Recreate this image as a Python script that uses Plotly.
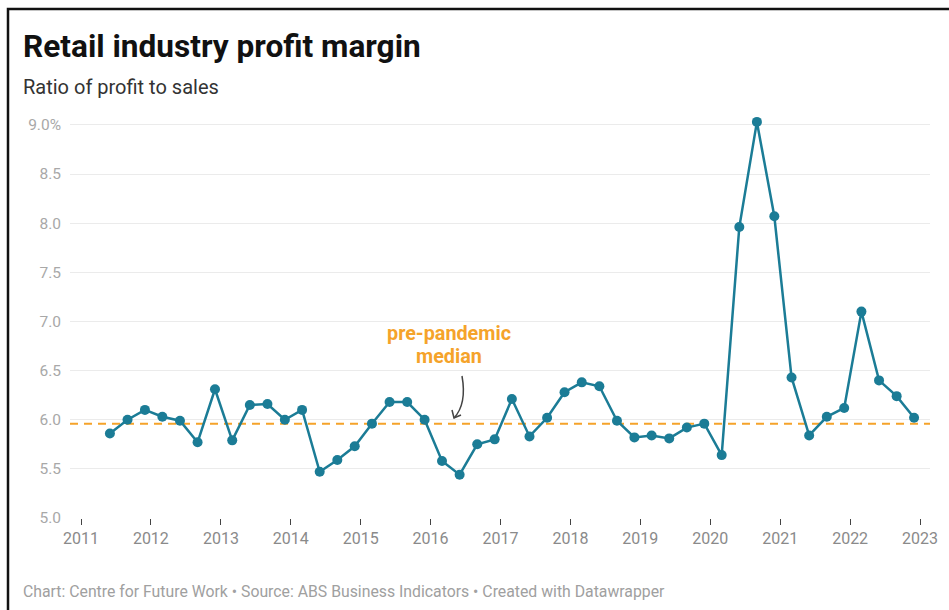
import pandas as pd
import plotly.graph_objects as go

# Quarterly retail profit-to-sales ratio (%), Jun 2011 – Dec 2022
quarters = pd.date_range("2011-06-01", "2022-12-01", freq="3MS")
profit_margin = [
    5.86, 6.00, 6.10, 6.03, 5.99, 5.77, 6.31, 5.79, 6.15, 6.16,
    6.00, 6.10, 5.47, 5.59, 5.73, 5.96, 6.18, 6.18, 6.00, 5.58,
    5.44, 5.75, 5.80, 6.21, 5.83, 6.02, 6.28, 6.38, 6.34, 5.99,
    5.82, 5.84, 5.81, 5.92, 5.96, 5.64, 7.96, 9.03, 8.07, 6.43,
    5.84, 6.03, 6.12, 7.10, 6.40, 6.24, 6.02,
]
pre_pandemic_median = 5.96

y_ticks = [5.0, 5.5, 6.0, 6.5, 7.0, 7.5, 8.0, 8.5, 9.0]
y_tick_labels = ["5.0", "5.5", "6.0", "6.5", "7.0", "7.5", "8.0", "8.5", "9.0%"]
year_ticks = [f"{y}-01-01" for y in range(2011, 2024)]

TITLE = "Retail industry profit margin"
SUBTITLE = "Ratio of profit to sales"
FOOTER = "Chart: Centre for Future Work • Source: ABS Business Indicators • Created with Datawrapper"

W, H = 949, 610
# y range runs a little above 9.0 so the peak is not clipped
Y_MIN, Y_MAX = 5.0, 9.08
PX_PER_UNIT = 98.25
L, R, B = 70, 19, 92
T = round(H - B - (Y_MAX - Y_MIN) * PX_PER_UNIT)
PW, PH = W - L - R, H - T - B

def px(xp):
    return (xp - L) / PW

def py(yp):
    return (H - B - yp) / PH

TEAL = "#1b7c96"
ORANGE = "#f5a32a"
FONT = "Roboto, Arial, sans-serif"

# x range: 2011-01-01 sits 11px right of the plot's left edge, 2023-01-01 10px left of its right edge
start, end = pd.Timestamp("2011-01-01"), pd.Timestamp("2023-01-01")
days_per_px = (end - start).days / (PW - 21)
x_range = [start - pd.Timedelta(days=11 * days_per_px), end + pd.Timedelta(days=10 * days_per_px)]

fig = go.Figure()

fig.add_trace(go.Scatter(
    x=[x_range[0], x_range[1]], y=[pre_pandemic_median] * 2,
    mode="lines", line=dict(color=ORANGE, width=2, dash="8px,6px"),
    hoverinfo="skip", showlegend=False,
))

fig.add_trace(go.Scatter(
    x=quarters, y=profit_margin, mode="lines+markers",
    line=dict(color=TEAL, width=2.5),
    marker=dict(color=TEAL, size=10),
    cliponaxis=False, showlegend=False,
))

annotations = [
    dict(text=f"<b>{TITLE}</b>", x=px(21), y=py(46), xref="paper", yref="paper",
         xanchor="left", yanchor="middle", showarrow=False,
         font=dict(family=FONT, size=31.6, color="#111")),
    dict(text=SUBTITLE, x=px(21), y=py(87), xref="paper", yref="paper",
         xanchor="left", yanchor="middle", showarrow=False,
         font=dict(family=FONT, size=20, color="#333")),
    dict(text=FOOTER, x=px(21), y=py(591), xref="paper", yref="paper",
         xanchor="left", yanchor="middle", showarrow=False,
         font=dict(family=FONT, size=15.8, color="#a0a0a0")),
    dict(text="<b>pre-pandemic</b>", x=px(449), y=py(333), xref="paper", yref="paper",
         xanchor="center", yanchor="middle", showarrow=False,
         font=dict(family=FONT, size=19.8, color=ORANGE)),
    dict(text="<b>median</b>", x=px(449), y=py(356), xref="paper", yref="paper",
         xanchor="center", yanchor="middle", showarrow=False,
         font=dict(family=FONT, size=19.8, color=ORANGE)),
]

shapes = [
    # frame around the graphic
    dict(type="path", xref="paper", yref="paper",
         path=f"M {px(1200)},{py(9)} L {px(8)},{py(9)} L {px(8)},{py(900)}",
         line=dict(color="#111", width=2.5)),
    # curved pointer to the median line
    dict(type="path", xref="paper", yref="paper",
         path=f"M {px(462)},{py(376)} Q {px(467)},{py(404)} {px(454)},{py(418)}",
         line=dict(color="#444", width=1.5)),
    dict(type="path", xref="paper", yref="paper",
         path=f"M {px(452)},{py(410)} L {px(454)},{py(418)} L {px(461)},{py(415)}",
         line=dict(color="#444", width=1.5)),
]

fig.update_layout(
    width=W, height=H,
    margin=dict(l=L, r=R, t=T, b=B),
    paper_bgcolor="white", plot_bgcolor="white",
    font=dict(family=FONT),
    annotations=annotations, shapes=shapes,
    xaxis=dict(
        type="date", range=x_range, tickvals=year_ticks, tickformat="%Y",
        showgrid=False, zeroline=False, showline=False,
        ticks="outside", ticklen=6, tickcolor="#444", tickwidth=1,
        tickfont=dict(size=16, color="#8a8a8a"),
    ),
    yaxis=dict(
        range=[Y_MIN, Y_MAX], tickvals=y_ticks, ticktext=y_tick_labels,
        showgrid=True, gridcolor="#ebebeb", gridwidth=1, zeroline=False,
        showline=False, ticks="", ticklabelstandoff=8,
        tickfont=dict(size=15.5, color="#a8a8a8"),
    ),
)

fig.write_html("out.html")
